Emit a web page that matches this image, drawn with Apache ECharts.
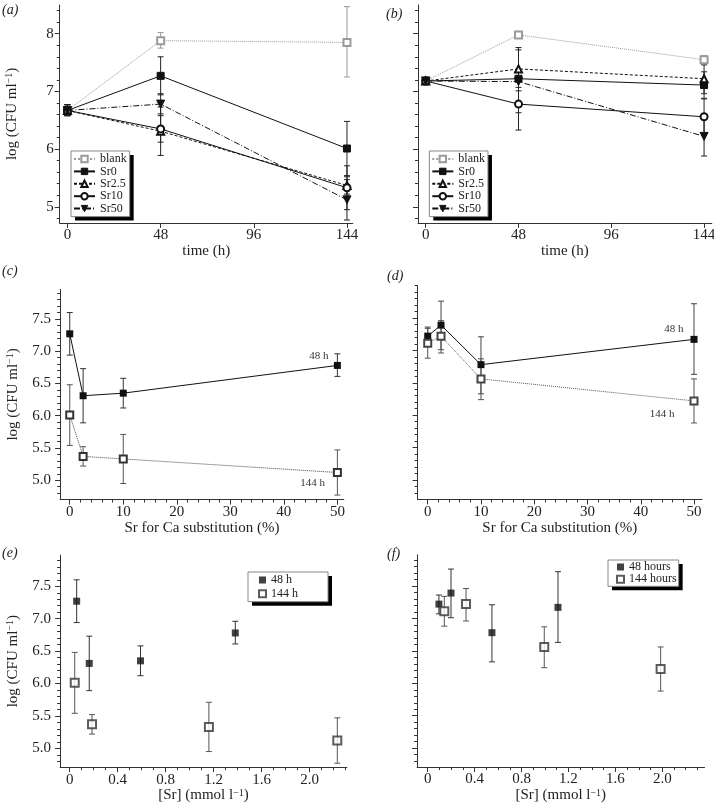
<!DOCTYPE html>
<html><head><meta charset="utf-8">
<script src="https://cdn.jsdelivr.net/npm/echarts@6/dist/echarts.min.js"></script>
<style>html,body{margin:0;padding:0;background:#fff}#c{width:714px;height:806px}</style>
</head><body><div id="c"></div>
<script>
// ---------------- data ----------------
const timeH = [0, 48, 144];
const seriesAB = ['blank', 'Sr0', 'Sr2.5', 'Sr10', 'Sr50'];
// panel (a)
const aMean = [[6.67, 7.88, 7.85], [6.67, 7.27, 6.01], [6.67, 6.31, 5.37], [6.67, 6.35, 5.33], [6.67, 6.78, 5.12]];
const aLow  = [[6.58, 7.75, 7.25], [6.58, 6.94, 5.54], [6.58, 5.89, 5.22], [6.58, 6.12, 4.95], [6.58, 6.61, 4.77]];
const aHigh = [[6.77, 8.02, 8.47], [6.77, 7.60, 6.48], [6.77, 6.73, 5.52], [6.77, 6.58, 5.71], [6.77, 6.96, 5.47]];
// panel (b)
const bMean = [[7.18, 7.98, 7.55], [7.18, 7.22, 7.11], [7.18, 7.39, 7.22], [7.18, 6.78, 6.56], [7.18, 7.17, 6.22]];
const bLow  = [[7.14, 7.92, 7.48], [7.14, 7.07, 6.88], [7.14, 7.01, 6.96], [7.14, 6.33, 6.24], [7.14, 6.63, 5.88]];
const bHigh = [[7.22, 8.04, 7.62], [7.22, 7.36, 7.34], [7.22, 7.76, 7.46], [7.22, 7.21, 6.87], [7.22, 7.72, 6.56]];
// panels (c) and (e)
const substPct = [0, 2.5, 10, 50];
const c48 = [7.27, 6.31, 6.35, 6.78];
const c48Low = [6.94, 5.89, 6.12, 6.61];
const c48High = [7.60, 6.73, 6.58, 6.96];
const c144 = [6.01, 5.37, 5.33, 5.12];
const c144Low = [5.54, 5.22, 4.95, 4.77];
const c144High = [6.48, 5.52, 5.71, 5.47];
// panels (d) and (f)
const d48 = [7.22, 7.39, 6.78, 7.17];
const d48Low = [7.07, 7.01, 6.33, 6.63];
const d48High = [7.36, 7.76, 7.21, 7.72];
const d144 = [7.11, 7.22, 6.56, 6.22];
const d144Low = [6.88, 6.96, 6.24, 5.88];
const d144High = [7.34, 7.46, 6.87, 6.56];
// [Sr] concentrations (mmol/l)
const e48Sr = [0.058, 0.163, 0.59, 1.38];
const e144Sr = [0.042, 0.186, 1.16, 2.23];
const f48Sr = [0.096, 0.199, 0.548, 1.111];
const f144Sr = [0.142, 0.327, 0.994, 1.986];
// tick labels
const abYTicks = [5, 6, 7, 8];
const timeTicks = [0, 48, 96, 144];
const cdefYTicks = [5.0, 5.5, 6.0, 6.5, 7.0, 7.5];
const substTicks = [0, 10, 20, 30, 40, 50];
const srTicks = [0, 0.4, 0.8, 1.2, 1.6, 2.0];

// ---------------- helpers ----------------
const FONT = "'Liberation Serif', 'DejaVu Serif', serif";
const AX = '#333';
function minorTicks(from, to, step, majors) {
  const out = [];
  for (let k = Math.round(from / step); k * step <= to + 1e-9; k++) {
    const v = +(k * step).toFixed(4);
    if (!majors.some(m => Math.abs(m - v) < 1e-6)) out.push(v);
  }
  return out;
}
const grids = [
  { left: 59.7, top: 4.9, width: 293.1, height: 218.0 },   // a
  { left: 418.0, top: 4.9, width: 293.8, height: 218.0 },  // b
  { left: 60.1, top: 289.3, width: 283.7, height: 210.3 }, // c
  { left: 417.6, top: 285.6, width: 284.4, height: 213.8 },// d
  { left: 60.1, top: 555.2, width: 286.8, height: 211.9 }, // e
  { left: 417.1, top: 554.8, width: 287.4, height: 212.2 } // f
];
const xr = [[-4, 147], [-4, 148], [-1.8, 51.2], [-1.9, 51.5], [-0.08, 2.31], [-0.09, 2.36]];
const yr = [[4.72, 8.5], [4.72, 8.5], [4.7, 7.96], [4.7, 8.0], [4.71, 7.98], [4.71, 7.98]];
const fmtInt = v => String(v);
const fmt1 = v => v.toFixed(1);
const fmtSr = v => (v === 0 ? '0' : v.toFixed(1));
const nameStyle = (sz) => ({
  fontFamily: FONT, fontSize: sz, color: '#222',
  rich: {
    n: { fontFamily: FONT, fontSize: sz, color: '#222' },
    s: { fontFamily: FONT, fontSize: 10, color: '#222', verticalAlign: 'top' }
  }
});
const yName = '{n|log (CFU ml}{s|\u22121}{n|)}';
const xNames = ['time (h)', 'time (h)', 'Sr for Ca substitution (%)', 'Sr for Ca substitution (%)',
  '{n|[Sr] (mmol l}{s|\u22121}{n|)}', '{n|[Sr] (mmol l}{s|\u22121}{n|)}'];
const xMajor = [timeTicks, timeTicks, substTicks, substTicks, srTicks, srTicks];
const xMinor = [[], [], minorTicks(0, 50, 2, substTicks), minorTicks(0, 50, 2, substTicks),
  minorTicks(0, 2.3, 0.1, srTicks), minorTicks(0, 2.3, 0.1, srTicks)];
const xFmt = [fmtInt, fmtInt, fmtInt, fmtInt, fmtSr, fmtSr];
const yMajor = [abYTicks, abYTicks, cdefYTicks, cdefYTicks, cdefYTicks, cdefYTicks];
const yMinor = [minorTicks(4.8, 8.4, 0.2, abYTicks), minorTicks(4.8, 8.4, 0.2, abYTicks),
  minorTicks(4.8, 7.9, 0.1, cdefYTicks), minorTicks(4.8, 8.0, 0.1, cdefYTicks),
  minorTicks(4.8, 7.9, 0.1, cdefYTicks), minorTicks(4.8, 7.9, 0.1, cdefYTicks)];
const yFmt = [fmtInt, fmtInt, fmt1, fmt1, fmt1, fmt1];
const xNameGap = [17, 17, 19, 19, 20, 20];

const xAxes = [], yAxes = [];
for (let g = 0; g < 6; g++) {
  xAxes.push({
    type: 'value', gridIndex: g, position: 'bottom', min: xr[g][0], max: xr[g][1],
    axisLine: { show: true, onZero: false, lineStyle: { color: AX, width: 1 } },
    axisTick: { show: true, inside: false, length: 5, customValues: xMajor[g], lineStyle: { color: AX } },
    axisLabel: { show: true, customValues: xMajor[g], formatter: xFmt[g], margin: 5,
      fontFamily: FONT, fontSize: 15, color: '#222' },
    splitLine: { show: false },
    name: xNames[g], nameLocation: 'middle', nameGap: xNameGap[g], nameTextStyle: nameStyle(15)
  });
  const showY = (g % 2 === 0);
  yAxes.push({
    type: 'value', gridIndex: g, position: 'left', min: yr[g][0], max: yr[g][1],
    axisLine: { show: true, onZero: false, lineStyle: { color: AX, width: 1 } },
    axisTick: { show: true, inside: false, length: 5, customValues: yMajor[g], lineStyle: { color: AX } },
    axisLabel: { show: showY, customValues: yMajor[g], formatter: yFmt[g], margin: g < 2 ? 6 : 9,
      fontFamily: FONT, fontSize: 15, color: '#222' },
    splitLine: { show: false },
    name: showY ? yName : '', nameLocation: 'middle', nameGap: 40, nameTextStyle: nameStyle(15)
  });
}
for (let g = 0; g < 6; g++) {
  xAxes.push({
    type: 'value', gridIndex: g, position: 'bottom', min: xr[g][0], max: xr[g][1],
    axisLine: { show: false, onZero: false },
    axisTick: { show: xMinor[g].length > 0, inside: false, length: 3, customValues: xMinor[g], lineStyle: { color: AX } },
    axisLabel: { show: false }, splitLine: { show: false }
  });
  yAxes.push({
    type: 'value', gridIndex: g, position: 'left', min: yr[g][0], max: yr[g][1],
    axisLine: { show: false, onZero: false },
    axisTick: { show: true, inside: false, length: 3, customValues: yMinor[g], lineStyle: { color: AX } },
    axisLabel: { show: false }, splitLine: { show: false }
  });
}

function errSeries(g, xs, lo, hi, color) {
  return {
    type: 'custom', xAxisIndex: g, yAxisIndex: g, z: 2, silent: true,
    data: xs.map((x, i) => [x, lo[i], hi[i]]),
    encode: { x: 0, y: [1, 2] },
    renderItem: (p, api) => {
      const x = api.value(0);
      const a = api.coord([x, api.value(1)]);
      const b = api.coord([x, api.value(2)]);
      const w = 3;
      const st = { stroke: color, lineWidth: 1 };
      return { type: 'group', children: [
        { type: 'line', shape: { x1: a[0], y1: a[1], x2: b[0], y2: b[1] }, style: st },
        { type: 'line', shape: { x1: a[0] - w, y1: a[1], x2: a[0] + w, y2: a[1] }, style: st },
        { type: 'line', shape: { x1: b[0] - w, y1: b[1], x2: b[0] + w, y2: b[1] }, style: st }
      ] };
    }
  };
}
const DOWN_TRI = 'path://M0,0 L10,0 L5,9 Z';
const abStyle = [
  { color: '#9a9a9a', symbol: 'emptyRect', size: 7, type: 'dotted', err: '#9a9a9a' },
  { color: '#111', symbol: 'rect', size: 7, type: 'solid', err: '#222' },
  { color: '#111', symbol: 'emptyTriangle', size: 7, type: [3, 2], err: '#222' },
  { color: '#111', symbol: 'emptyCircle', size: 7, type: 'solid', err: '#222' },
  { color: '#111', symbol: DOWN_TRI, size: 8, type: [6, 2, 1, 2], err: '#222' }
];
const series = [];
[[aMean, aLow, aHigh], [bMean, bLow, bHigh]].forEach(([M, L, H], g) => {
  seriesAB.forEach((nm, s) => {
    const st = abStyle[s];
    series.push(errSeries(g, timeH, L[s], H[s], st.err));
    series.push({
      type: 'line', name: nm, xAxisIndex: g, yAxisIndex: g, z: 3,
      data: timeH.map((t, i) => [t, M[s][i]]),
      symbol: st.symbol, symbolSize: st.size, showAllSymbol: true,
      itemStyle: { color: st.color, borderColor: st.color, borderWidth: 1 },
      lineStyle: { color: st.color, width: 1, type: st.type }
    });
  });
});
function withEndLabel(xs, ys, text, dist, dy) {
  return xs.map((x, i) => i === xs.length - 1
    ? { value: [x, ys[i]], label: { show: true, formatter: text, position: 'left', distance: dist, offset: [0, dy],
        fontFamily: FONT, fontSize: 11, color: '#333' } }
    : [x, ys[i]]);
}
// (c)
series.push(errSeries(2, substPct, c48Low, c48High, '#333'));
series.push(errSeries(2, substPct, c144Low, c144High, '#555'));
series.push({ type: 'line', name: 'c48', xAxisIndex: 2, yAxisIndex: 2, z: 3,
  data: withEndLabel(substPct, c48, '48 h', 5.5, -9),
  symbol: 'rect', symbolSize: 7, itemStyle: { color: '#111' }, lineStyle: { color: '#111', width: 1 } });
series.push({ type: 'line', name: 'c144', xAxisIndex: 2, yAxisIndex: 2, z: 3,
  data: withEndLabel(substPct, c144, '144 h', 8, 11),
  symbol: 'emptyRect', symbolSize: 7, itemStyle: { color: '#333', borderColor: '#333', borderWidth: 1 },
  lineStyle: { color: '#444', width: 1, type: 'dotted' } });
// (d)
series.push(errSeries(3, substPct, d48Low, d48High, '#444'));
series.push(errSeries(3, substPct, d144Low, d144High, '#555'));
series.push({ type: 'line', name: 'd48', xAxisIndex: 3, yAxisIndex: 3, z: 3,
  data: withEndLabel(substPct, d48, '48 h', 7, -10),
  symbol: 'rect', symbolSize: 7, itemStyle: { color: '#111' }, lineStyle: { color: '#111', width: 1 } });
series.push({ type: 'line', name: 'd144', xAxisIndex: 3, yAxisIndex: 3, z: 3,
  data: withEndLabel(substPct, d144, '144 h', 15, 13),
  symbol: 'emptyRect', symbolSize: 7, itemStyle: { color: '#444', borderColor: '#444', borderWidth: 1 },
  lineStyle: { color: '#555', width: 1, type: 'dotted' } });
// (e)
series.push(errSeries(4, e48Sr, c48Low, c48High, '#333'));
series.push(errSeries(4, e144Sr, c144Low, c144High, '#555'));
series.push({ type: 'scatter', name: '48 h', xAxisIndex: 4, yAxisIndex: 4, z: 3,
  data: e48Sr.map((x, i) => [x, c48[i]]), symbol: 'rect', symbolSize: 7, itemStyle: { color: '#111' } });
series.push({ type: 'scatter', name: '144 h', xAxisIndex: 4, yAxisIndex: 4, z: 3,
  data: e144Sr.map((x, i) => [x, c144[i]]), symbol: 'emptyRect', symbolSize: 8,
  itemStyle: { color: '#333', borderColor: '#333', borderWidth: 1 } });
// (f)
series.push(errSeries(5, f48Sr, d48Low, d48High, '#333'));
series.push(errSeries(5, f144Sr, d144Low, d144High, '#555'));
series.push({ type: 'scatter', name: '48 hours', xAxisIndex: 5, yAxisIndex: 5, z: 3,
  data: f48Sr.map((x, i) => [x, d48[i]]), symbol: 'rect', symbolSize: 7, itemStyle: { color: '#111' } });
series.push({ type: 'scatter', name: '144 hours', xAxisIndex: 5, yAxisIndex: 5, z: 3,
  data: f144Sr.map((x, i) => [x, d144[i]]), symbol: 'emptyRect', symbolSize: 8,
  itemStyle: { color: '#333', borderColor: '#333', borderWidth: 1 } });

// Each legend is drawn twice: once with white background + black drop shadow,
// once on top with only the thin grey frame (so the shadow does not hit the frame).
const legendSpecs = [
  { left: 71, top: 151, data: seriesAB, itemWidth: 21, itemHeight: 8, itemGap: 0.4, padding: [2, 3, 2, 2] },
  { left: 429.3, top: 151, data: seriesAB, itemWidth: 21, itemHeight: 8, itemGap: 0.4, padding: [2, 3, 2, 2] },
  { left: 248, top: 572, data: ['48 h', '144 h'], itemWidth: 7, itemHeight: 7, itemGap: 1.7, padding: [2, 30, 2, 10] },
  { left: 608, top: 560, data: ['48 hours', '144 hours'], itemWidth: 7, itemHeight: 7, itemGap: 0.3, padding: [1, 2, 1, 8] }
];
const legends = [];
legendSpecs.forEach(sp => {
  legends.push(Object.assign({
    orient: 'vertical', selectedMode: false, backgroundColor: '#fff', borderWidth: 0,
    shadowColor: '#000', shadowOffsetX: 4, shadowOffsetY: 4, shadowBlur: 0, z: 10,
    itemStyle: { borderWidth: 1 },
    textStyle: { fontFamily: FONT, fontSize: 12, color: '#222', lineHeight: 12 }
  }, sp));
  legends.push(Object.assign({
    orient: 'vertical', selectedMode: false, backgroundColor: 'transparent', borderColor: '#888', borderWidth: 1, z: 11,
    itemStyle: { opacity: 0 }, lineStyle: { opacity: 0 },
    textStyle: { fontFamily: FONT, fontSize: 12, color: 'rgba(0,0,0,0)', lineHeight: 12 }
  }, sp));
});
const letters = [['(a)', 2, 3], ['(b)', 386, 7], ['(c)', 2, 264], ['(d)', 387, 269], ['(e)', 2, 546], ['(f)', 387, 547]];

const chart = echarts.init(document.getElementById('c'), null, { renderer: 'canvas' });
chart.setOption({
  animation: false,
  backgroundColor: '#fff',
  grid: grids.map(g => Object.assign({ containLabel: false, outerBoundsMode: 'none' }, g)),
  xAxis: xAxes,
  yAxis: yAxes,
  legend: legends,
  graphic: letters.map(([t, x, y]) => ({ type: 'text', left: x, top: y,
    style: { text: t, fontFamily: FONT, fontSize: 14, fontStyle: 'italic', fill: '#222' } })),
  series: series
});
</script></body></html>
